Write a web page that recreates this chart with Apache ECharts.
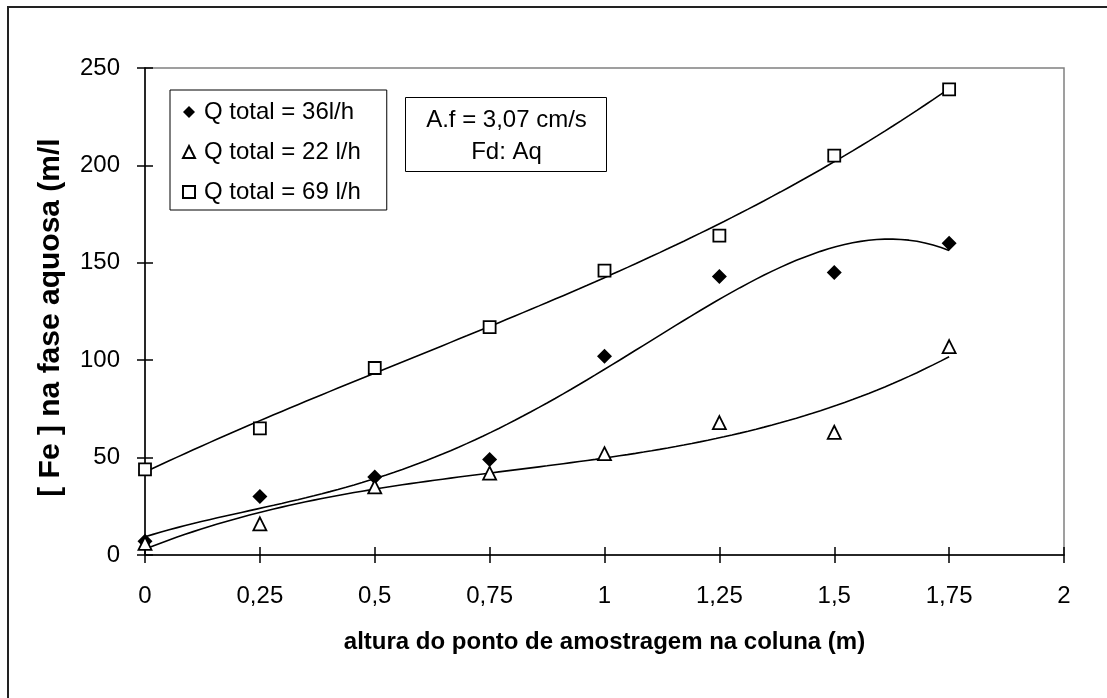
<!DOCTYPE html>
<html>
<head>
<meta charset="utf-8">
<script src="https://cdn.jsdelivr.net/npm/echarts@6/dist/echarts.min.js"></script>
<style>
  html, body { margin: 0; padding: 0; background: #fff; }
  #main { width: 1107px; height: 698px; }
</style>
</head>
<body>
<div id="main"></div>
<script>
// altura (m)
var alturas = [0, 0.25, 0.5, 0.75, 1, 1.25, 1.5, 1.75];
// [Fe] na fase aquosa
var q36 = [7, 30, 40, 49, 102, 143, 145, 160];
var q22 = [6, 16, 35, 42, 52, 68, 63, 107];
var q69 = [44, 65, 96, 117, 146, 164, 205, 239];

var nomes = ['Q total = 36l/h', 'Q total = 22 l/h', 'Q total = 69 l/h'];

// linha de tendencia polinomial (minimos quadrados), como no Excel
function polyFit(xs, ys, ordem) {
  var n = ordem + 1, A = [], b = [];
  for (var i = 0; i < n; i++) {
    A.push([]);
    for (var j = 0; j < n; j++) {
      var s = 0;
      for (var k = 0; k < xs.length; k++) s += Math.pow(xs[k], i + j);
      A[i].push(s);
    }
    var t = 0;
    for (var k = 0; k < xs.length; k++) t += ys[k] * Math.pow(xs[k], i);
    b.push(t);
  }
  for (var c = 0; c < n; c++) {
    for (var r = c + 1; r < n; r++) {
      var f = A[r][c] / A[c][c];
      for (var j = c; j < n; j++) A[r][j] -= f * A[c][j];
      b[r] -= f * b[c];
    }
  }
  var coef = new Array(n);
  for (var r = n - 1; r >= 0; r--) {
    var s = b[r];
    for (var j = r + 1; j < n; j++) s -= A[r][j] * coef[j];
    coef[r] = s / A[r][r];
  }
  return coef;
}
function tendencia(ys, ordem) {
  var c = polyFit(alturas, ys, ordem), pts = [];
  var x0 = alturas[0], x1 = alturas[alturas.length - 1];
  for (var i = 0; i <= 100; i++) {
    var x = x0 + (x1 - x0) * i / 100, y = 0;
    for (var j = 0; j < c.length; j++) y += c[j] * Math.pow(x, j);
    pts.push([x, y]);
  }
  return pts;
}
function pares(ys) {
  return alturas.map(function (x, i) { return [x, ys[i]]; });
}

var fonte = 'Liberation Sans, Arial, sans-serif';
var virgula = function (v) { return String(v).replace('.', ','); };

var linha = function (ys, ordem) {
  return {
    type: 'line', data: tendencia(ys, ordem), showSymbol: false, silent: true,
    lineStyle: { color: '#000', width: 1.6 }, z: 2
  };
};

var myChart = echarts.init(document.getElementById('main'));
myChart.setOption({
  animation: false,
  backgroundColor: '#fff',
  grid: {
    left: 145, top: 68, right: 43, bottom: 143,
    show: true, borderColor: '#808080', borderWidth: 1.5
  },
  xAxis: [{
    type: 'value', min: 0, max: 2, interval: 0.25,
    axisLine: { lineStyle: { color: '#000', width: 1.5 } },
    axisTick: { length: 8, lineStyle: { color: '#000', width: 1.5 } },
    splitLine: { show: false },
    axisLabel: { formatter: virgula, color: '#000', fontSize: 24, fontFamily: fonte, margin: 29 },
    name: 'altura do ponto de amostragem na coluna (m)',
    nameLocation: 'middle', nameGap: 75,
    nameTextStyle: { color: '#000', fontSize: 24, fontWeight: 'bold', fontFamily: fonte }
  }, {
    type: 'value', min: 0, max: 2, interval: 0.25, position: 'bottom',
    axisLine: { show: false },
    axisTick: { inside: true, length: 8, lineStyle: { color: '#000', width: 1.5 } },
    axisLabel: { show: false }, splitLine: { show: false }
  }],
  yAxis: [{
    type: 'value', min: 0, max: 250, interval: 50,
    axisLine: { show: true, lineStyle: { color: '#000', width: 1.5 } },
    axisTick: { show: true, length: 8, lineStyle: { color: '#000', width: 1.5 } },
    splitLine: { show: false },
    axisLabel: { color: '#000', fontSize: 24, fontFamily: fonte, margin: 25 },
    name: '[ Fe ] na fase aquosa (m/l',
    nameLocation: 'middle', nameGap: 79, nameRotate: 90,
    nameTextStyle: { color: '#000', fontSize: 30, fontWeight: 'bold', fontFamily: fonte, padding: [0, 12, 0, 0] }
  }, {
    type: 'value', min: 0, max: 250, interval: 50, position: 'left',
    axisLine: { show: false },
    axisTick: { show: true, inside: true, length: 8, lineStyle: { color: '#000', width: 1.5 } },
    axisLabel: { show: false }, splitLine: { show: false }
  }],
  legend: {
    data: nomes, orient: 'vertical', left: 170, top: 90,
    padding: [10, 26, 6, 12], itemGap: 16, itemWidth: 12, itemHeight: 12,
    borderColor: '#000', borderWidth: 1, backgroundColor: '#fff',
    textStyle: { color: '#000', fontSize: 24, fontFamily: fonte, padding: [0, 0, 0, 4] }
  },
  graphic: [{
    type: 'group', left: 405, top: 97,
    children: [{
      type: 'rect', shape: { x: 0, y: 0, width: 201, height: 74 },
      style: { fill: '#fff', stroke: '#000', lineWidth: 1 }
    }, {
      type: 'text', x: 101, y: 23,
      style: { text: 'A.f = 3,07 cm/s', fill: '#000', font: '24px ' + fonte, align: 'center', verticalAlign: 'middle' }
    }, {
      type: 'text', x: 101, y: 55,
      style: { text: 'Fd: Aq', fill: '#000', font: '24px ' + fonte, align: 'center', verticalAlign: 'middle' }
    }]
  }, {
    type: 'polyline', silent: true,
    shape: { points: [[8, 698], [8, 7], [1107, 7]] },
    style: { stroke: '#222', lineWidth: 2, fill: null }
  }],
  series: [{
    name: nomes[0], type: 'scatter', data: pares(q36),
    symbol: 'diamond', symbolSize: 15, z: 3,
    itemStyle: { color: '#000', opacity: 1 }
  }, {
    name: nomes[1], type: 'scatter', data: pares(q22),
    symbol: 'triangle', symbolSize: 13, z: 3,
    itemStyle: { color: '#fff', borderColor: '#000', borderWidth: 1.8, opacity: 1 }
  }, {
    name: nomes[2], type: 'scatter', data: pares(q69),
    symbol: 'rect', symbolSize: 12, z: 3,
    itemStyle: { color: '#fff', borderColor: '#000', borderWidth: 1.8, opacity: 1 }
  },
  linha(q36, 4), linha(q22, 3), linha(q69, 3)]
});
</script>
</body>
</html>
